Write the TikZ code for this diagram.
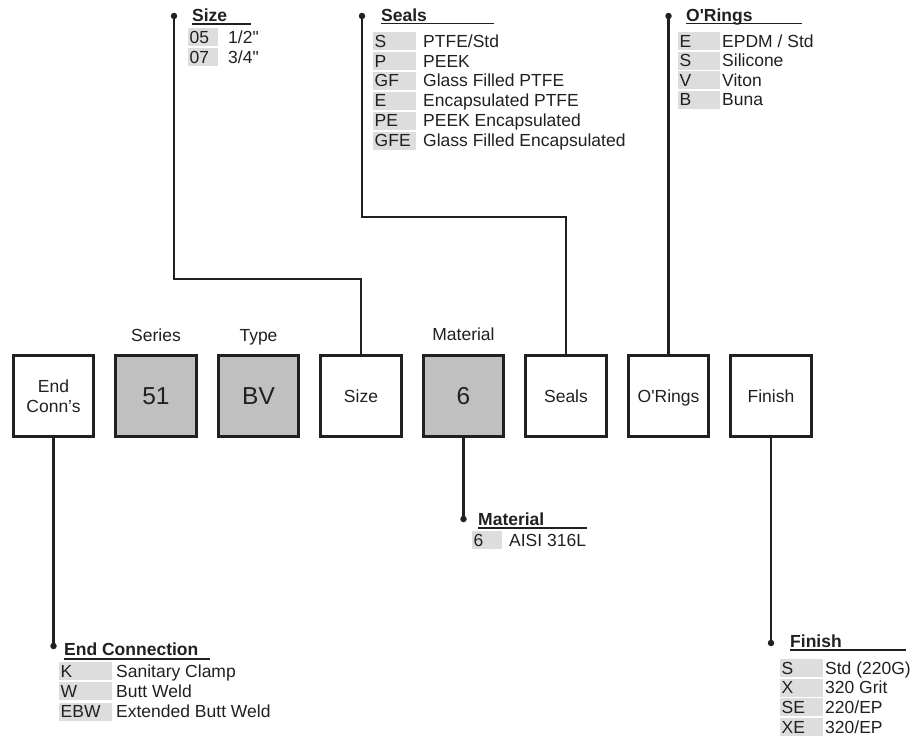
\documentclass[tikz,border=0pt]{standalone}
\usepackage{fontspec}
\newfontfamily\arial{Liberation Sans}
\usetikzlibrary{positioning}
\definecolor{ink}{RGB}{35,31,32}
\definecolor{boxgray}{RGB}{192,192,192}
\definecolor{cellgray}{RGB}{221,221,221}

\begin{document}
\begin{tikzpicture}[x=1pt, y=-1pt,
    node distance=19.4pt,
    every node/.style={font=\arial\fontsize{17.5}{20}\selectfont, text=ink},
    openbox/.style={rectangle, draw=ink, line width=2.6pt, minimum size=80.5pt,
                    inner sep=0pt, align=center},
    fixedbox/.style={openbox, fill=boxgray, font=\arial\fontsize{24.5}{28}\selectfont},
    toplabel/.style={anchor=base},
    conn/.style={draw=ink, line width=2.6pt},
    knob/.style={circle, fill=ink, minimum size=6.5pt, inner sep=0pt},
    head/.style={anchor=base west, inner sep=0pt,
                 font=\arial\bfseries\fontsize{17.5}{20}\selectfont},
    rule/.style={draw=ink, line width=1.6pt},
    code/.style={anchor=west, fill=cellgray, inner xsep=1.5pt, inner ysep=0pt,
                 minimum height=18pt, text height=12.2pt, text depth=0pt,
                 text width=#1, align=left},
    val/.style={anchor=west, inner sep=0pt, text height=12.2pt, text depth=0pt},
  ]
  \useasboundingbox (0,0) rectangle (914,740);

  % code boxes
  \node[openbox] (endconn) at (53.5,396) {End\\Conn’s};
  \node[fixedbox, right=of endconn] (series) {51};
  \node[fixedbox, right=of series] (type) {BV};
  \node[openbox, right=of type] (size) {Size};
  \node[fixedbox, right=of size] (material) {6};
  \node[openbox, right=of material] (seals) {Seals};
  \node[openbox, right=of seals, text depth=0pt] (orings) {O'Rings};
  \node[openbox, right=of orings] (finish) {Finish};

  \node[toplabel] (serieslab) at ([yshift=13pt]series.north) {Series};
  \node[toplabel] (typelab) at ([yshift=13pt]type.north) {Type};
  \node[toplabel] (materiallab) at ([yshift=14pt]material.north) {Material};

  % dots
  \node[knob] (sizedot) at (174,16) {};
  \node[knob] (sealsdot) at (362,16) {};
  \node[knob] (oringsdot) at (orings.north |- 0,16) {};
  \node[knob] (materialdot) at (material.south |- 0,519) {};
  \node[knob] (endconndot) at (endconn.south |- 0,646) {};
  \node[knob] (finishdot) at (finish.south |- 0,643) {};
  \coordinate (sizebend) at (sizedot |- 0,279);
  \coordinate (sealsbend) at (sealsdot |- 0,217);

  % connectors
  \draw[conn] (size.north) |- (sizebend) -- (sizedot.center);
  \draw[conn] (seals.north) |- (sealsbend) -- (sealsdot.center);
  \draw[conn] (orings.north) -- (oringsdot.center);
  \draw[conn] (material.south) -- (materialdot.center);
  \draw[conn] (endconn.south) -- (endconndot.center);
  \draw[conn] (finish.south) -- (finishdot.center);

  % Size
  \node[head] (sizehead) at (192,21.5) {Size};
  \draw[rule] ([yshift=-2.5pt]sizehead.base west) -- ++(59,0);
  \foreach \c/\v [count=\i from 0] in {05/{1/2"}, 07/{3/4"}}{
    \node[code=27pt] (sizec\i) at (188, 37+20*\i) {\c};
    \node[val] (sizev\i) at (228, 37+20*\i) {\v};
  }

  % Seals
  \node[head] (sealshead) at (381,21) {Seals};
  \draw[rule] ([yshift=-2.5pt]sealshead.base west) -- ++(113,0);
  \foreach \c/\v [count=\i from 0] in {S/{PTFE/Std}, P/PEEK, GF/Glass Filled PTFE,
      E/Encapsulated PTFE, PE/PEEK Encapsulated, GFE/Glass Filled Encapsulated}{
    \node[code=40pt] (sealc\i) at (373, 41+19.9*\i) {\c};
    \node[val] (sealv\i) at (423, 41+19.9*\i) {\v};
  }

  % O'Rings
  \node[head] (oringshead) at (686,21) {O'Rings};
  \draw[rule] ([yshift=-2.5pt]oringshead.base west) -- ++(116,0);
  \foreach \c/\v [count=\i from 0] in {E/{EPDM / Std}, S/Silicone, V/Viton, B/Buna}{
    \node[code=39pt] (oringc\i) at (678, 41+19.6*\i) {\c};
    \node[val] (oringv\i) at (722, 41+19.6*\i) {\v};
  }

  % Material
  \node[head] (materialhead) at (478,525.5) {Material};
  \draw[rule] ([yshift=-2.5pt]materialhead.base west) -- ++(109,0);
  \node[code=27pt] (materialc0) at (472,540) {6};
  \node[val] (materialv0) at (509,540) {AISI 316L};

  % End Connection
  \node[head] (endconnhead) at (64,655) {End Connection};
  \draw[rule] ([yshift=-4pt]endconnhead.base west) -- ++(146,0);
  \foreach \c/\v [count=\i from 0] in {K/Sanitary Clamp, W/Butt Weld, EBW/Extended Butt Weld}{
    \node[code=50pt] (endc\i) at (59, 671+20.3*\i) {\c};
    \node[val] (endv\i) at (116, 671+20.3*\i) {\v};
  }

  % Finish
  \node[head] (finishhead) at (790,647) {Finish};
  \draw[rule] ([yshift=-3pt]finishhead.base west) -- ++(116,0);
  \foreach \c/\v [count=\i from 0] in {S/Std (220G), X/320 Grit, SE/{220/EP}, XE/{320/EP}}{
    \node[code=40pt] (finishc\i) at (780, 668+19.7*\i) {\c};
    \node[val] (finishv\i) at (825, 668+19.7*\i) {\v};
  }
\end{tikzpicture}
\end{document}
